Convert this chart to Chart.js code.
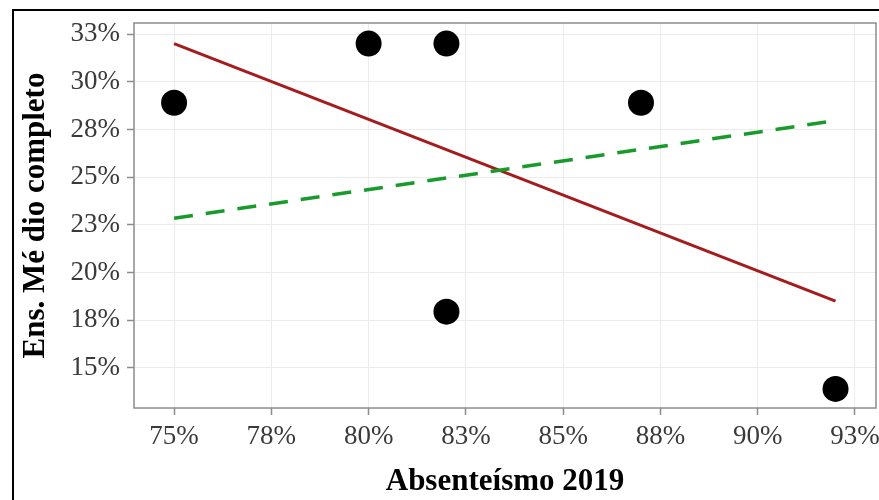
<!DOCTYPE html>
<html>
<head>
<meta charset="utf-8">
<script src="https://cdn.jsdelivr.net/npm/chart.js@4.4.1/dist/chart.umd.min.js"></script>
<style>
  html, body { margin: 0; padding: 0; background: #ffffff; }
  #wrap { width: 879px; height: 500px; position: relative; }
</style>
</head>
<body>
<div id="wrap"><canvas id="c" width="879" height="500"></canvas></div>
<script>
// ---- Data ----
const pointX = [75, 80, 82, 82, 87, 92];           // Absenteísmo 2019 (%)
const pointY = [28.9, 32.0, 32.0, 17.95, 28.9, 13.9]; // Ens. Médio completo (%)

const redLineX = [75, 92];
const redLineY = [32.0, 18.5];

const greenLineX = [75, 91.8];
const greenLineY = [22.85, 27.9];

const xTickValues = [75, 77.5, 80, 82.5, 85, 87.5, 90, 92.5];
const xTickLabels = ["75%", "78%", "80%", "83%", "85%", "88%", "90%", "93%"];
const yTickValues = [15, 17.5, 20, 22.5, 25, 27.5, 30, 32.5];
const yTickLabels = ["15%", "18%", "20%", "23%", "25%", "28%", "30%", "33%"];

const xTitle = "Absenteísmo 2019";
const yTitle = "Ens. Mé dio completo";

const xRange = [73.97, 93.04];
const yRange = [12.9, 33.08];

// ---- Build chart ----
const toXY = (xs, ys) => xs.map((x, i) => ({ x: x, y: ys[i] }));

const framePlugin = {
  id: 'frame',
  beforeDraw(chart) {
    const ctx = chart.ctx;
    ctx.save();
    ctx.fillStyle = '#ffffff';
    ctx.fillRect(0, 0, chart.width, chart.height);
    ctx.restore();
  },
  afterDraw(chart) {
    const ctx = chart.ctx;
    const a = chart.chartArea;
    ctx.save();
    // panel border
    ctx.strokeStyle = '#8c8c8c';
    ctx.lineWidth = 1.5;
    ctx.strokeRect(a.left, a.top, a.right - a.left, a.bottom - a.top);
    // outer black frame (image border)
    ctx.strokeStyle = '#000000';
    ctx.lineWidth = 2;
    ctx.beginPath();
    ctx.moveTo(13, chart.height + 5);
    ctx.lineTo(13, 10);
    ctx.lineTo(chart.width + 5, 10);
    ctx.stroke();
    ctx.restore();
  }
};

const tickFont = { family: 'Liberation Serif', size: 27 };
const titleFont = { family: 'Liberation Serif', size: 31, weight: 'bold' };

new Chart(document.getElementById('c'), {
  type: 'scatter',
  data: {
    datasets: [
      {
        label: 'fit',
        data: toXY(redLineX, redLineY),
        showLine: true,
        borderColor: '#a41c1c',
        borderWidth: 3,
        pointRadius: 0,
        fill: false,
        order: 2
      },
      {
        label: 'ref',
        data: toXY(greenLineX, greenLineY),
        showLine: true,
        borderColor: '#189a2c',
        borderWidth: 3.5,
        borderDash: [19, 13],
        borderCapStyle: 'butt',
        pointRadius: 0,
        fill: false,
        order: 1
      },
      {
        label: 'pontos',
        data: toXY(pointX, pointY),
        showLine: false,
        pointRadius: 13,
        pointHoverRadius: 13,
        pointBackgroundColor: '#000000',
        pointBorderColor: '#000000',
        pointBorderWidth: 0,
        order: 0
      }
    ]
  },
  options: {
    responsive: false,
    animation: false,
    devicePixelRatio: 1,
    layout: { autoPadding: false, padding: { top: 23, right: 3, left: 0, bottom: 0 } },
    plugins: {
      legend: { display: false },
      tooltip: { enabled: false },
      title: { display: false }
    },
    scales: {
      x: {
        type: 'linear',
        min: xRange[0],
        max: xRange[1],
        afterBuildTicks: s => { s.ticks = xTickValues.map(v => ({ value: v })); },
        afterFit: s => { s.height = 92; s.paddingLeft = 0; s.paddingRight = 0; },
        ticks: {
          font: tickFont,
          color: '#3a3a3a',
          padding: 6,
          maxRotation: 0,
          autoSkip: false,
          callback: (v) => { const i = xTickValues.indexOf(v); return i >= 0 ? xTickLabels[i] : ''; }
        },
        grid: {
          color: '#ececec',
          lineWidth: 1,
          tickLength: 7,
          tickColor: '#8c8c8c',
          tickWidth: 1.5
        },
        border: { display: false },
        title: {
          display: true,
          text: xTitle,
          font: titleFont,
          color: '#000000',
          padding: { top: 0, bottom: -1 }
        }
      },
      y: {
        type: 'linear',
        min: yRange[0],
        max: yRange[1],
        afterBuildTicks: s => { s.ticks = yTickValues.map(v => ({ value: v })); },
        afterFit: s => { s.width = 134; s.paddingTop = 0; s.paddingBottom = 0; },
        ticks: {
          font: tickFont,
          color: '#3a3a3a',
          padding: 7,
          autoSkip: false,
          callback: (v) => { const i = yTickValues.indexOf(v); return i >= 0 ? yTickLabels[i] : ''; }
        },
        grid: {
          color: '#ececec',
          lineWidth: 1,
          tickLength: 7,
          tickColor: '#8c8c8c',
          tickWidth: 1.5
        },
        border: { display: false },
        title: {
          display: true,
          text: yTitle,
          font: titleFont,
          color: '#000000',
          padding: { top: 17, bottom: 0 }
        }
      }
    }
  },
  plugins: [framePlugin]
});
</script>
</body>
</html>
